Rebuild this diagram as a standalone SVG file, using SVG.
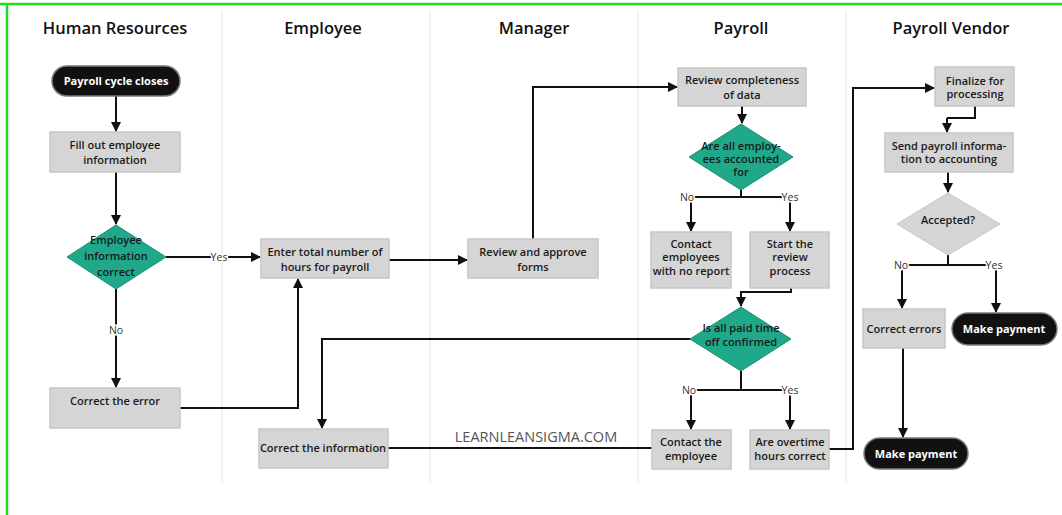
<svg xmlns="http://www.w3.org/2000/svg" width="1062" height="515" viewBox="0 0 1062 515">
  <style>
    .lane { stroke: #ececec; stroke-width: 1.5; }
    .title { font-family: "Open Sans", "Liberation Sans", sans-serif; font-size: 16.5px; font-weight: 600; fill: #111; text-anchor: middle; }
    .box { fill: #d5d5d5; stroke: #c6c6c6; stroke-width: 1.5; }
    .pill { fill: #111; stroke: #7a7a7a; stroke-width: 1.5; }
    .dec { fill: #1fa98a; stroke: #17906f; stroke-width: 1; }
    .dec-grey { fill: #d5d5d5; stroke: #c6c6c6; stroke-width: 1; }
    .t { font-family: "Open Sans", "Liberation Sans", sans-serif; font-size: 11px; fill: #1a1a1a; text-anchor: middle; font-weight: 600; }
    .tw { font-family: "Open Sans", "Liberation Sans", sans-serif; font-size: 11px; fill: #fff; text-anchor: middle; font-weight: 700; }
    .lbl { font-family: "Open Sans", "Liberation Sans", sans-serif; font-size: 10.5px; fill: #333; text-anchor: middle; stroke: #fff; stroke-width: 3; paint-order: stroke; }
    .wm { font-family: "Open Sans", "Liberation Sans", sans-serif; font-size: 14.5px; fill: #555; text-anchor: middle; }
    .c { fill: none; stroke: #111; stroke-width: 2; }
    .ca { fill: none; stroke: #111; stroke-width: 2; marker-end: url(#arrow); }
  </style>
  <defs>
    <marker id="arrow" markerUnits="userSpaceOnUse" markerWidth="10" markerHeight="10" refX="9" refY="5" orient="auto">
      <path d="M0,0 L10,5 L0,10 z" fill="#111"/>
    </marker>
  </defs>

  <rect x="0" y="0" width="1062" height="515" fill="#fff"/>

  <!-- frame -->
  <g id="frame">
    <line x1="0" y1="4" x2="1062" y2="4" stroke="#22dd22" stroke-width="2.5"/>
    <line x1="7" y1="4" x2="7" y2="515" stroke="#22dd22" stroke-width="2.5"/>
    <line x1="9" y1="6" x2="9" y2="515" stroke="#dcdcdc" stroke-width="1"/>
  </g>

  <!-- swimlanes -->
  <g id="lanes">
    <line class="lane" x1="222" y1="12" x2="222" y2="482"/>
    <line class="lane" x1="430" y1="12" x2="430" y2="482"/>
    <line class="lane" x1="638" y1="12" x2="638" y2="482"/>
    <line class="lane" x1="846" y1="12" x2="846" y2="482"/>
    <text class="title" x="115" y="34">Human Resources</text>
    <text class="title" x="323" y="34">Employee</text>
    <text class="title" x="534" y="34">Manager</text>
    <text class="title" x="741" y="34">Payroll</text>
    <text class="title" x="951" y="34">Payroll Vendor</text>
  </g>

  <!-- connectors -->
  <g id="connectors">
    <path class="ca" d="M116,96 V131"/>
    <path class="ca" d="M116,172 V224"/>
    <path class="ca" d="M166,257 H260"/>
    <path class="ca" d="M116,289 V387"/>
    <path class="ca" d="M180,408 H298 V279"/>
    <path class="ca" d="M389,260 H467"/>
    <path class="ca" d="M533,239 V87 H677"/>
    <path class="ca" d="M742,106 V123"/>
    <path class="c" d="M741,190 V197 M691,197 H790"/>
    <path class="ca" d="M691,197 V231"/>
    <path class="ca" d="M790,197 V231"/>
    <path class="ca" d="M791,288 V292 H741 V306"/>
    <path class="ca" d="M690,339 H322 V428"/>
    <path class="c" d="M741,371 V390 M691,390 H790"/>
    <path class="ca" d="M691,390 V429"/>
    <path class="ca" d="M790,390 V429"/>
    <path class="c" d="M388,448 H652"/>
    <path class="ca" d="M829,449 H853 V88 H934"/>
    <path class="c" d="M975,106 V118 H947"/>
    <path class="ca" d="M947,118 V132"/>
    <path class="ca" d="M948,172 V192"/>
    <path class="c" d="M948,255 V265 M902,265 H996"/>
    <path class="ca" d="M902,265 V308"/>
    <path class="ca" d="M996,265 V312"/>
    <path class="ca" d="M903,348 V437"/>
    <text class="lbl" x="219" y="261">Yes</text>
    <text class="lbl" x="116" y="334">No</text>
    <text class="lbl" x="687" y="201">No</text>
    <text class="lbl" x="790" y="201">Yes</text>
    <text class="lbl" x="689" y="394">No</text>
    <text class="lbl" x="790" y="394">Yes</text>
    <text class="lbl" x="901" y="269">No</text>
    <text class="lbl" x="994" y="269">Yes</text>
  </g>

  <!-- Human Resources -->
  <g id="payroll-cycle-closes">
    <rect class="pill" x="52" y="66" width="128" height="30" rx="15"/>
    <text class="tw" x="116" y="85">Payroll cycle closes</text>
  </g>
  <g id="fill-out-info">
    <rect class="box" x="50" y="132" width="130" height="40"/>
    <text class="t" x="115" y="149">Fill out employee</text>
    <text class="t" x="115" y="164">information</text>
  </g>
  <g id="info-correct">
    <polygon class="dec" points="116,225 166,257 116,289 67,257"/>
    <text class="t" x="116" y="244">Employee</text>
    <text class="t" x="116" y="260">information</text>
    <text class="t" x="116" y="276">correct</text>
  </g>
  <g id="correct-error">
    <rect class="box" x="50" y="388" width="130" height="40"/>
    <text class="t" x="115" y="405">Correct the error</text>
  </g>

  <!-- Employee -->
  <g id="enter-hours">
    <rect class="box" x="261" y="239" width="128" height="39"/>
    <text class="t" x="325" y="256">Enter total number of</text>
    <text class="t" x="325" y="271">hours for payroll</text>
  </g>
  <g id="correct-info">
    <rect class="box" x="259" y="429" width="129" height="39"/>
    <text class="t" x="323" y="452">Correct the information</text>
  </g>

  <!-- Manager -->
  <g id="review-approve">
    <rect class="box" x="468" y="239" width="130" height="39"/>
    <text class="t" x="533" y="256">Review and approve</text>
    <text class="t" x="533" y="271">forms</text>
  </g>
  <text class="wm" x="536" y="442">LEARNLEANSIGMA.COM</text>

  <!-- Payroll -->
  <g id="review-completeness">
    <rect class="box" x="678" y="68" width="128" height="38"/>
    <text class="t" x="742" y="84">Review completeness</text>
    <text class="t" x="742" y="99">of data</text>
  </g>
  <g id="all-accounted">
    <polygon class="dec" points="741,124 793,157 741,190 689,157"/>
    <text class="t" x="741" y="150">Are all employ-</text>
    <text class="t" x="741" y="163">ees accounted</text>
    <text class="t" x="741" y="176">for</text>
  </g>
  <g id="contact-no-report">
    <rect class="box" x="651" y="232" width="80" height="56"/>
    <text class="t" x="691" y="248">Contact</text>
    <text class="t" x="691" y="261">employees</text>
    <text class="t" x="691" y="275">with no report</text>
  </g>
  <g id="start-review">
    <rect class="box" x="750" y="232" width="79" height="56"/>
    <text class="t" x="790" y="248">Start the</text>
    <text class="t" x="790" y="261">review</text>
    <text class="t" x="790" y="275">process</text>
  </g>
  <g id="pto-confirmed">
    <polygon class="dec" points="741,307 791,339 741,371 690,339"/>
    <text class="t" x="741" y="332">Is all paid time</text>
    <text class="t" x="741" y="346">off confirmed</text>
  </g>
  <g id="contact-employee">
    <rect class="box" x="652" y="430" width="79" height="39"/>
    <text class="t" x="691" y="446">Contact the</text>
    <text class="t" x="691" y="460">employee</text>
  </g>
  <g id="overtime-correct">
    <rect class="box" x="750" y="430" width="79" height="39"/>
    <text class="t" x="790" y="446">Are overtime</text>
    <text class="t" x="790" y="460">hours correct</text>
  </g>

  <!-- Payroll Vendor -->
  <g id="finalize">
    <rect class="box" x="935" y="67" width="79" height="39"/>
    <text class="t" x="975" y="85">Finalize for</text>
    <text class="t" x="975" y="98">processing</text>
  </g>
  <g id="send-to-accounting">
    <rect class="box" x="885" y="133" width="128" height="39"/>
    <text class="t" x="949" y="150">Send payroll informa-</text>
    <text class="t" x="949" y="163">tion to accounting</text>
  </g>
  <g id="accepted">
    <polygon class="dec-grey" points="948,193 1000,224 948,255 897,224"/>
    <text class="t" x="948" y="224">Accepted?</text>
  </g>
  <g id="correct-errors">
    <rect class="box" x="863" y="309" width="82" height="39"/>
    <text class="t" x="904" y="333">Correct errors</text>
  </g>
  <g id="make-payment-accepted">
    <rect class="pill" x="952" y="313" width="105" height="32" rx="16"/>
    <text class="tw" x="1004" y="333">Make payment</text>
  </g>
  <g id="make-payment-corrected">
    <rect class="pill" x="864" y="438" width="104" height="31" rx="15.5"/>
    <text class="tw" x="916" y="458">Make payment</text>
  </g>
</svg>
